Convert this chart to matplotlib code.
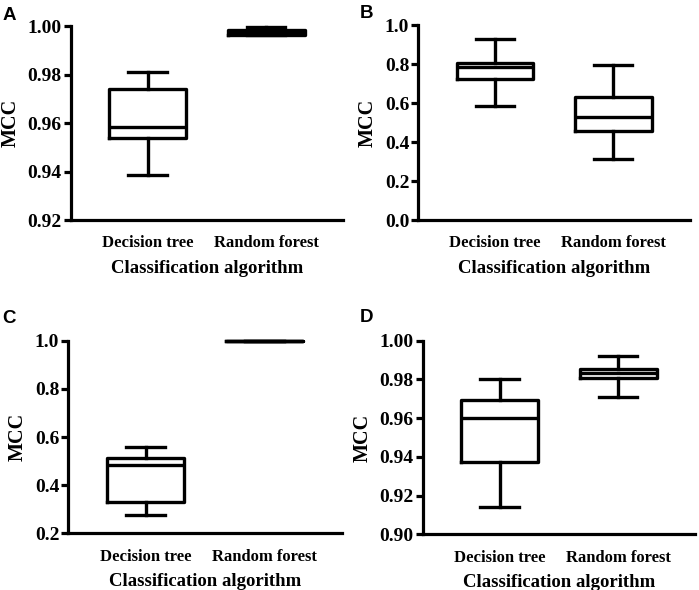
import matplotlib
matplotlib.use("Agg")
import matplotlib.pyplot as plt

categories = ["Decision tree", "Random forest"]
panel_labels = ["A", "B", "C", "D"]

# stats per panel: [whislo, q1, med, q3, whishi] for each category
A_dt = [0.9387, 0.9538, 0.9582, 0.9739, 0.9809]
A_rf = [0.9963, 0.9965, 0.9977, 0.9982, 0.9997]
B_dt = [0.586, 0.724, 0.787, 0.808, 0.931]
B_rf = [0.312, 0.457, 0.527, 0.633, 0.795]
C_dt = [0.276, 0.331, 0.484, 0.511, 0.560]
C_rf = [0.998, 0.998, 0.9985, 0.999, 0.999]
D_dt = [0.914, 0.9372, 0.960, 0.9694, 0.980]
D_rf = [0.9711, 0.9809, 0.9832, 0.9854, 0.992]

A_ticks = [0.92, 0.94, 0.96, 0.98, 1.00]
B_ticks = [0.0, 0.2, 0.4, 0.6, 0.8, 1.0]
C_ticks = [0.2, 0.4, 0.6, 0.8, 1.0]
D_ticks = [0.90, 0.92, 0.94, 0.96, 0.98, 1.00]

A_fmt = "{:.2f}"
B_fmt = "{:.1f}"
C_fmt = "{:.1f}"
D_fmt = "{:.2f}"

panels = [
    (A_dt, A_rf, A_ticks, A_fmt, [0.1011, 0.6271, 0.3896, 0.3288], (0.003, 0.988)),
    (B_dt, B_rf, B_ticks, B_fmt, [0.5984, 0.6271, 0.3887, 0.3300], (0.515, 0.991)),
    (C_dt, C_rf, C_ticks, C_fmt, [0.0977, 0.0961, 0.3911, 0.3264], (0.003, 0.474)),
    (D_dt, D_rf, D_ticks, D_fmt, [0.6047, 0.0944, 0.3896, 0.3281], (0.515, 0.477)),
]

serif = ["Liberation Serif", "DejaVu Serif"]
fig = plt.figure(figsize=(6.99, 5.90), dpi=100)

for (dt, rf, ticks, fmt, rect, lpos), letter in zip(panels, panel_labels):
    ax = fig.add_axes(rect)
    stats = []
    for vals, name in zip([dt, rf], categories):
        stats.append(dict(whislo=vals[0], q1=vals[1], med=vals[2], q3=vals[3],
                          whishi=vals[4], fliers=[], label=name))
    lw = 2.4
    parts = ax.bxp(stats, positions=[1, 2], widths=0.65, showfliers=False,
                   boxprops=dict(color="black", linewidth=lw),
                   whiskerprops=dict(color="black", linewidth=lw),
                   capprops=dict(color="black", linewidth=lw),
                   medianprops=dict(color="black", linewidth=lw))
    for key in ["boxes", "whiskers", "caps", "medians"]:
        for art in parts[key]:
            art.set_clip_on(False)
    ax.set_xlim(0.35, 2.65)
    ax.set_ylim(ticks[0], ticks[-1])
    ax.set_yticks(ticks)
    ax.set_yticklabels([fmt.format(t) for t in ticks], family=serif,
                       fontweight="bold", fontsize=14)
    ax.set_xticks([1, 2])
    ax.set_xticklabels(categories, family=serif, fontweight="bold", fontsize=12)
    for s in ["top", "right"]:
        ax.spines[s].set_visible(False)
    for s in ["left", "bottom"]:
        ax.spines[s].set_linewidth(2.3)
    ax.tick_params(axis="y", length=5, width=2.3, pad=1.5)
    ax.tick_params(axis="x", length=0, pad=11)
    ax.set_ylabel("MCC", family=serif, fontweight="bold", fontsize=14.5, labelpad=5)
    ax.set_xlabel("Classification algorithm", family=serif, fontweight="bold",
                  fontsize=13.5, labelpad=6)
    fig.text(lpos[0], lpos[1], letter, family=["Liberation Sans", "DejaVu Sans"],
             fontweight="bold", fontsize=13.5, ha="left", va="top")

fig.savefig("out.png", dpi=100)
